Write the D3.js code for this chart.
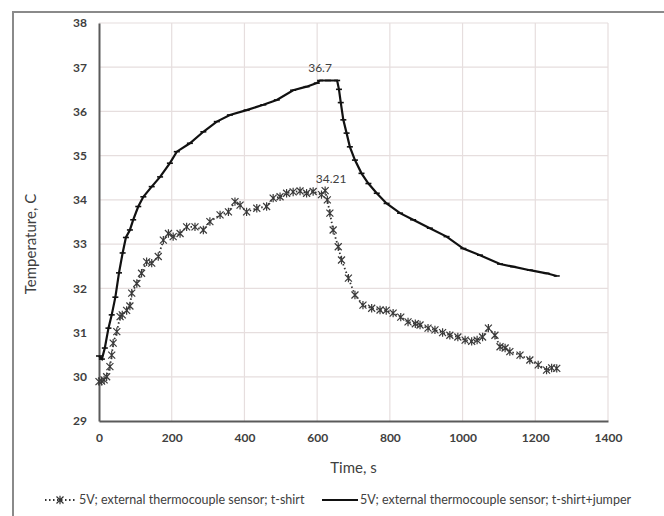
<!DOCTYPE html>
<html>
<head>
<meta charset="utf-8">
<script src="https://d3js.org/d3.v7.min.js"></script>
<style>
  body { margin: 0; background: #fff; }
  svg text { font-family: Lato, "Liberation Sans", sans-serif; fill: #404040; }
</style>
</head>
<body>
<div id="chart"></div>
<script>
// t-shirt + jumper (solid line)
var timeJumper = [0, 8, 16, 26, 35, 45, 55, 65, 74, 85,
  94, 108, 122, 145, 168, 195, 214, 250, 287, 324,
  360, 406, 452, 489, 534, 571, 599, 608, 630, 655,
  660, 665, 672, 681, 690, 704, 722, 741, 764, 791,
  828, 864, 910, 956, 1002, 1048, 1103, 1139, 1185, 1231, 1259];
var tempJumper = [30.47, 30.4, 30.65, 31.1, 31.4, 31.8, 32.35, 32.8, 33.15, 33.32,
  33.55, 33.85, 34.07, 34.3, 34.52, 34.83, 35.09, 35.28, 35.54, 35.77,
  35.92, 36.03, 36.15, 36.26, 36.48, 36.56, 36.64, 36.7, 36.7, 36.7,
  36.5, 36.2, 35.81, 35.51, 35.2, 34.9, 34.6, 34.37, 34.15, 33.92,
  33.7, 33.55, 33.36, 33.17, 32.9, 32.75, 32.55, 32.49, 32.41, 32.34, 32.28];

// t-shirt only (dotted line, star markers)
var timeShirt = [0, 7, 14, 21, 30, 35, 39, 49, 58, 64,
  76, 85, 90, 104, 117, 131, 145, 163, 177, 191,
  204, 223, 241, 264, 287, 305, 333, 356, 374, 388,
  406, 434, 461, 479, 498, 516, 534, 553, 571, 589,
  612, 622, 628, 635, 644, 658, 667, 686, 704, 726,
  750, 773, 790, 809, 830, 850, 870, 883, 905, 924,
  945, 965, 987, 1007, 1025, 1040, 1055, 1071, 1089, 1103,
  1117, 1130, 1158, 1185, 1208, 1231, 1245, 1259];
var tempShirt = [29.89, 29.9, 29.93, 30.0, 30.23, 30.49, 30.76, 31.02, 31.36, 31.4,
  31.5, 31.6, 31.89, 32.11, 32.34, 32.6, 32.57, 32.72, 33.09, 33.24,
  33.17, 33.24, 33.39, 33.39, 33.32, 33.51, 33.66, 33.73, 33.96, 33.88,
  33.73, 33.81, 33.85, 34.04, 34.07, 34.15, 34.18, 34.2, 34.15, 34.19,
  34.12, 34.21, 34.0, 33.7, 33.32, 32.94, 32.64, 32.23, 31.85, 31.62,
  31.55, 31.51, 31.5, 31.44, 31.35, 31.24, 31.2, 31.17, 31.1, 31.06,
  31.0, 30.94, 30.9, 30.83, 30.8, 30.83, 30.9, 31.1, 30.94, 30.68,
  30.65, 30.57, 30.49, 30.38, 30.27, 30.15, 30.2, 30.19];

var xTicks = [0, 200, 400, 600, 800, 1000, 1200, 1400];
var yTicks = [29, 30, 31, 32, 33, 34, 35, 36, 37, 38];

var legendShirt = "5V; external thermocouple sensor; t-shirt";
var legendJumper = "5V; external thermocouple sensor; t-shirt+jumper";

var width = 664, height = 516;
var svg = d3.select("#chart").append("svg")
  .attr("width", width)
  .attr("height", height);

// outer chart frame (runs off the page on the right and bottom)
svg.append("rect")
  .attr("x", 13).attr("y", 12)
  .attr("width", 720).attr("height", 600)
  .attr("fill", "#fff")
  .attr("stroke", "#8a8a8a")
  .attr("stroke-width", 2);

var x = d3.scaleLinear().domain([0, 1400]).range([99, 608]);
var y = d3.scaleLinear().domain([29, 38]).range([421, 23]);

// gridlines
svg.append("g").selectAll("line")
  .data(xTicks.slice(1))
  .enter().append("line")
  .attr("x1", function(d) { return x(d); })
  .attr("x2", function(d) { return x(d); })
  .attr("y1", y(38)).attr("y2", y(29))
  .attr("stroke", "#e6dede").attr("stroke-width", 1.2);
svg.append("g").selectAll("line")
  .data(yTicks.slice(1))
  .enter().append("line")
  .attr("x1", x(0)).attr("x2", x(1400))
  .attr("y1", function(d) { return y(d); })
  .attr("y2", function(d) { return y(d); })
  .attr("stroke", "#e6dede").attr("stroke-width", 1.2);

// axes
var xAxis = svg.append("g")
  .attr("transform", "translate(0," + y(29) + ")")
  .call(d3.axisBottom(x).tickValues(xTicks).tickFormat(d3.format("d")).tickSize(0).tickPadding(12));
var yAxis = svg.append("g")
  .attr("transform", "translate(" + x(0) + ",0)")
  .call(d3.axisLeft(y).tickValues(yTicks).tickSize(0).tickPadding(12));
[xAxis, yAxis].forEach(function(a) {
  a.select(".domain").attr("stroke", "#5a5a5a").attr("stroke-width", 2);
  a.selectAll("text")
    .attr("font-family", "Lato, sans-serif")
    .attr("font-size", 12)
    .attr("font-weight", "bold")
    .attr("fill", "#383838");
});

// series
var shirt = timeShirt.map(function(t, i) { return [t, tempShirt[i]]; });
var jumper = timeJumper.map(function(t, i) { return [t, tempJumper[i]]; });
var line = d3.line()
  .x(function(d) { return x(d[0]); })
  .y(function(d) { return y(d[1]); });

svg.append("path").datum(shirt)
  .attr("d", line)
  .attr("fill", "none")
  .attr("stroke", "#333")
  .attr("stroke-width", 1.8)
  .attr("stroke-dasharray", "1.5,2.5");

var starPath = "M-3.5,-3.5L3.5,3.5M-3.5,3.5L3.5,-3.5M0,-4.2L0,4.2";
svg.append("g").selectAll("path")
  .data(shirt)
  .enter().append("path")
  .attr("d", starPath)
  .attr("transform", function(d) { return "translate(" + x(d[0]) + "," + y(d[1]) + ")"; })
  .attr("stroke", "#3a3a3a")
  .attr("stroke-width", 1.2)
  .attr("fill", "none");

svg.append("path").datum(jumper)
  .attr("d", line)
  .attr("fill", "none")
  .attr("stroke", "#111")
  .attr("stroke-width", 2.2);

svg.append("g").selectAll("line")
  .data(jumper)
  .enter().append("line")
  .attr("x1", function(d) { return x(d[0]) - 3; })
  .attr("x2", function(d) { return x(d[0]) + 3; })
  .attr("y1", function(d) { return y(d[1]); })
  .attr("y2", function(d) { return y(d[1]); })
  .attr("stroke", "#111")
  .attr("stroke-width", 1.6);

// data labels
svg.append("text")
  .attr("x", x(608)).attr("y", y(36.7) - 8)
  .attr("text-anchor", "middle")
  .attr("font-size", 12)
  .text("36.7");
svg.append("text")
  .attr("x", x(622) + 6).attr("y", y(34.21) - 8)
  .attr("text-anchor", "middle")
  .attr("font-size", 12)
  .text("34.21");

// axis titles
svg.append("text")
  .attr("x", x(700)).attr("y", 473)
  .attr("text-anchor", "middle")
  .attr("font-size", 15)
  .text("Time, s");
svg.append("text")
  .attr("transform", "translate(36,244) rotate(-90)")
  .attr("text-anchor", "middle")
  .attr("font-size", 15)
  .text("Temperature, C");

// legend
var lg = svg.append("g").attr("transform", "translate(0,500)");
lg.append("line")
  .attr("x1", 45).attr("x2", 76).attr("y1", 0).attr("y2", 0)
  .attr("stroke", "#333").attr("stroke-width", 1.8)
  .attr("stroke-dasharray", "1.5,2.5");
lg.append("path").attr("d", starPath)
  .attr("transform", "translate(60,0)")
  .attr("stroke", "#333").attr("stroke-width", 1.2).attr("fill", "none");
lg.append("text")
  .attr("x", 79).attr("y", 4)
  .attr("font-size", 12.5)
  .text(legendShirt);
lg.append("line")
  .attr("x1", 322).attr("x2", 358).attr("y1", 0).attr("y2", 0)
  .attr("stroke", "#111").attr("stroke-width", 2.2);
lg.append("text")
  .attr("x", 360).attr("y", 4)
  .attr("font-size", 12.5)
  .text(legendJumper);
</script>
</body>
</html>
